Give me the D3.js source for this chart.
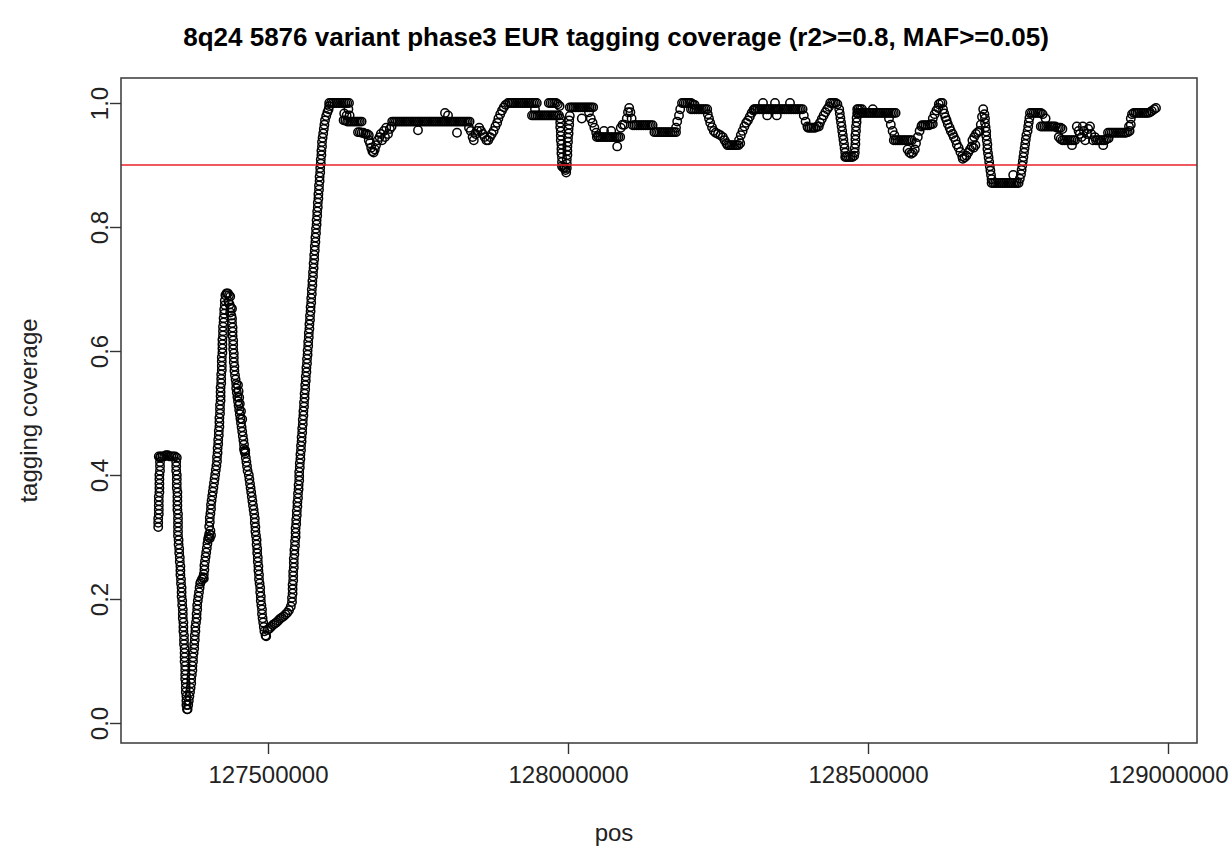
<!DOCTYPE html>
<html>
<head>
<meta charset="utf-8">
<script src="https://cdn.jsdelivr.net/npm/d3@7"></script>
<style>
body { margin: 0; background: #fff; }
text { font-family: "Liberation Sans", Arial, sans-serif; fill: #222; }
</style>
</head>
<body>
<div id="chart"></div>
<script>
const width = 1229
const height = 848
// plot frame (R plot region)
const frame = {left: 121, right: 1197, top: 78, bottom: 743}

const title = "8q24 5876 variant phase3 EUR tagging coverage (r2>=0.8, MAF>=0.05)"
const xLabel = "pos"
const yLabel = "tagging coverage"
const xTicks = [127500000, 128000000, 128500000, 129000000]
const yTicks = [0, 0.2, 0.4, 0.6, 0.8, 1.0]
const threshold = 0.9

// [position in kb, tagging coverage]
const coverage = [
// first column and shoulder
[127317,.316],[127317,.323],[127317,.330],[127318,.337],[127318,.344],[127318,.351],[127318,.358],[127318,.365],[127319,.372],[127319,.379],[127319,.386],[127319,.393],[127319,.400],[127320,.407],[127320,.414],[127320,.421],[127320,.428],
[127318,.43],[127321,.43],[127324,.43],[127327,.43],[127330,.432],[127333,.432],[127336,.43],[127339,.43],[127342,.43],[127345,.43],[127348,.428],
// fall to the first valley
[127347,.421],[127347,.414],[127347,.407],[127348,.400],[127348,.393],[127348,.386],[127348,.379],[127349,.372],[127349,.365],[127349,.358],[127349,.351],[127349,.344],[127350,.337],[127350,.330],[127350,.323],[127350,.316],[127350,.309],[127350,.302],
[127351,.295],[127351,.288],[127352,.281],[127352,.274],[127353,.267],[127353,.260],[127354,.253],[127354,.246],[127354,.239],[127355,.232],[127355,.225],[127356,.218],[127356,.211],[127356,.204],[127357,.197],
[127357,.190],[127358,.183],[127358,.176],[127358,.169],[127359,.162],[127359,.155],[127359,.148],[127360,.141],[127360,.134],[127360,.127],[127361,.120],[127361,.113],[127361,.106],[127361,.099],[127362,.092],[127362,.085],[127362,.078],
[127362,.071],[127363,.064],[127363,.057],[127363,.050],[127364,.043],[127364,.036],[127364,.029],[127365,.022],
// climb to the 0.69 peak
[127366,.022],[127367,.029],[127368,.036],[127369,.043],[127370,.050],[127371,.057],[127372,.064],[127372,.071],[127373,.078],[127374,.085],[127374,.092],[127375,.099],[127375,.106],[127376,.113],[127377,.120],[127377,.127],[127378,.134],[127378,.141],[127379,.148],[127379,.155],
[127380,.162],[127381,.169],[127381,.176],[127382,.183],[127382,.190],[127383,.197],[127384,.204],[127385,.211],[127386,.218],[127387,.225],[127388,.228],[127390,.232],[127392,.235],[127393,.233],[127393,.240],[127394,.247],[127394,.254],[127395,.261],[127396,.268],[127397,.275],[127398,.282],
[127399,.289],[127400,.296],[127401,.300],[127402,.305],[127403,.298],[127404,.310],[127405,.303],
[127402,.317],[127403,.324],[127403,.331],[127404,.338],[127405,.345],[127405,.352],[127406,.359],[127407,.366],[127408,.373],[127409,.380],[127410,.387],[127411,.394],[127412,.401],[127413,.408],[127414,.415],[127415,.422],[127415,.429],[127416,.436],[127416,.443],[127417,.450],
[127417,.457],[127418,.464],[127418,.471],[127419,.478],[127419,.485],[127419,.492],[127420,.499],[127420,.506],[127420,.513],[127421,.520],[127421,.527],[127421,.534],[127421,.541],[127422,.548],[127422,.555],[127422,.562],[127423,.569],[127423,.576],[127423,.583],[127423,.590],
[127424,.597],[127424,.604],[127424,.611],[127424,.618],[127425,.625],[127425,.632],[127425,.639],[127426,.646],[127426,.653],[127427,.660],[127427,.667],[127428,.674],[127428,.681],
[127429,.690],[127431,.693],[127433,.693],[127435,.690],[127437,.688],[127434,.680],[127436,.675],[127438,.670],[127440,.668],[127437,.662],[127439,.657],
// fall to the second valley
[127440,.652],[127440,.645],[127441,.638],[127441,.631],[127441,.624],[127442,.617],[127442,.610],[127442,.603],[127443,.596],[127443,.589],[127443,.582],[127444,.575],[127444,.568],[127445,.561],[127446,.554],[127447,.547],[127450,.545],[127447,.540],[127451,.535],[127448,.533],
[127449,.526],[127452,.525],[127450,.519],[127453,.515],[127451,.512],[127452,.505],[127455,.503],[127453,.498],[127454,.491],[127457,.490],[127455,.484],[127456,.477],[127457,.470],[127458,.463],[127459,.456],[127460,.449],[127460,.442],[127462,.440],[127461,.438],
[127462,.435],[127463,.428],[127464,.421],[127465,.414],[127466,.407],[127468,.400],[127469,.393],[127470,.386],[127471,.379],[127472,.372],[127473,.365],[127474,.358],[127475,.351],[127476,.344],[127477,.337],[127478,.330],[127478,.323],[127479,.316],[127479,.309],[127480,.302],
[127481,.295],[127481,.288],[127482,.281],[127482,.274],[127483,.267],[127483,.260],[127484,.253],[127484,.246],[127485,.239],[127485,.232],[127486,.225],[127487,.218],[127487,.211],[127488,.204],[127488,.197],[127489,.190],[127490,.183],[127490,.176],[127491,.169],[127492,.162],
[127493,.155],[127494,.148],[127496,.141],
[127497,.140],[127499,.150],[127502,.152],[127505,.155],[127508,.158],[127511,.160],[127514,.162],[127517,.165],[127520,.168],[127523,.170],[127526,.172],[127529,.175],[127532,.178],[127535,.182],[127538,.188],
// long climb to 1.0
[127540,.195],[127540,.202],[127541,.209],[127541,.216],[127541,.223],[127542,.230],[127542,.237],[127542,.244],[127543,.251],[127543,.258],[127543,.265],[127544,.272],[127544,.279],[127545,.286],[127545,.293],[127546,.300],[127546,.307],[127546,.314],[127547,.321],[127547,.328],
[127548,.335],[127548,.342],[127549,.349],[127549,.356],[127550,.363],[127550,.370],[127551,.377],[127551,.384],[127552,.391],[127552,.398],[127552,.405],[127553,.412],[127553,.419],[127554,.426],[127554,.433],[127555,.440],[127555,.447],[127556,.454],[127556,.461],[127557,.468],
[127557,.475],[127558,.482],[127558,.489],[127559,.496],[127559,.503],[127560,.510],[127560,.517],[127561,.524],[127561,.531],[127562,.538],[127562,.545],[127563,.552],[127563,.559],[127564,.566],[127564,.573],[127565,.580],[127565,.587],[127566,.594],[127566,.601],[127567,.608],
[127567,.615],[127568,.622],[127568,.629],[127569,.636],[127569,.643],[127570,.650],[127570,.657],[127571,.664],[127571,.671],[127572,.678],[127572,.685],[127573,.692],[127573,.699],[127574,.706],[127574,.713],[127575,.720],[127575,.727],[127576,.734],[127576,.741],[127577,.748],
[127577,.755],[127578,.762],[127578,.769],[127579,.776],[127579,.783],[127580,.790],[127580,.797],[127581,.804],[127581,.811],[127582,.818],[127582,.825],[127583,.832],[127583,.839],[127584,.846],[127584,.853],[127585,.860],[127585,.867],[127586,.874],[127586,.881],[127587,.888],
[127587,.895],[127588,.902],[127588,.909],[127589,.916],[127589,.923],[127590,.930],[127590,.937],[127591,.944],[127592,.951],[127593,.958],[127594,.965],[127595,.972],[127597,.979],[127599,.985],[127601,.990],[127602,.995],
// upper band
[127602,1],[127605,1],[127608,1],[127611,1],[127614,1],[127617,1],[127620,1],[127623,1],[127626,1],[127629,1],[127632,1],[127635,1],
[127627,.983],[127631,.98],[127634,.99],[127636,.98],
[127626,.972],[127629,.972],[127632,.97],[127635,.97],[127638,.97],[127641,.97],[127644,.97],[127647,.97],[127650,.97],[127653,.97],[127656,.97],
[127650,.953],[127653,.953],[127656,.952],[127659,.952],[127662,.95],[127665,.95],[127668,.948],
[127668,.94],[127670,.935],[127672,.928],[127674,.922],[127676,.92],[127678,.925],[127680,.932],[127683,.94],[127686,.945],
[127688,.95],[127690,.94],[127693,.955],[127695,.945],[127697,.96],[127700,.95],[127703,.958],[127706,.962],
[127707,.97],[127710,.97],[127713,.97],[127716,.97],[127719,.97],[127722,.97],[127725,.97],[127728,.97],[127731,.97],[127734,.97],[127737,.97],[127740,.97],[127743,.97],[127746,.97],[127749,.97],[127752,.97],[127755,.97],[127758,.97],[127761,.97],[127764,.97],
[127767,.97],[127770,.97],[127773,.97],[127776,.97],[127779,.97],[127782,.97],[127785,.97],[127788,.97],[127791,.97],[127794,.97],[127797,.97],[127800,.97],[127803,.97],[127806,.97],[127809,.97],[127812,.97],[127815,.97],[127818,.97],[127821,.97],[127824,.97],
[127827,.97],[127830,.97],[127833,.97],[127836,.97],
[127750,.956],[127795,.984],[127800,.98],[127815,.952],
[127835,.96],[127838,.955],[127841,.945],[127843,.94],[127846,.95],[127849,.955],[127852,.96],[127855,.955],[127858,.95],[127861,.945],[127864,.94],[127867,.94],[127870,.945],[127873,.95],
[127876,.955],[127879,.962],[127882,.968],[127884,.975],[127887,.982],[127890,.988],[127893,.993],[127896,.997],
[127900,1],[127903,1],[127906,1],[127909,1],[127912,1],[127915,1],[127918,1],[127921,1],[127924,1],[127927,1],[127930,1],[127933,1],[127936,1],[127939,1],[127942,1],[127945,1],[127948,1],
[127945,.99],
[127940,.98],[127943,.98],[127946,.98],[127949,.98],[127952,.98],[127955,.98],[127958,.98],[127961,.98],[127964,.98],[127967,.98],[127970,.98],[127973,.98],[127976,.98],[127979,.98],[127982,.98],[127985,.98],
[127968,1],[127971,1],[127974,1],[127977,1],[127980,1],[127983,.998],[127986,.995],
[127987,.975],[127987,.968],[127987,.961],[127988,.954],[127988,.947],[127988,.940],[127989,.933],[127989,.926],[127989,.919],[127990,.912],[127990,.905],[127990,.898],
[127992,.896],[127994,.895],[127996,.892],[127997,.888],
[127998,.895],[127998,.902],[127998,.909],[127999,.916],[127999,.923],[127999,.930],[128000,.937],[128000,.944],[128001,.951],[128001,.958],[128002,.965],[128002,.972],[128003,.979],
[128003,.993],[128006,.993],[128009,.993],[128012,.993],[128015,.993],[128018,.993],[128021,.993],[128024,.993],[128027,.993],[128030,.993],[128033,.993],[128036,.993],[128039,.993],[128042,.993],
[128023,.975],
[128035,.985],[128038,.975],[128041,.968],[128044,.96],[128047,.952],[128050,.947],
[128048,.945],[128051,.945],[128054,.945],[128057,.945],[128060,.945],[128063,.945],[128066,.945],[128069,.945],[128072,.945],[128075,.945],[128078,.945],[128081,.945],[128084,.945],[128087,.945],
[128082,.93],[128060,.955],[128072,.955],
[128088,.96],[128091,.965],[128094,.965],
[128098,.975],[128100,.985],[128102,.992],[128104,.985],[128106,.975],
[128108,.964],[128111,.964],[128114,.964],[128117,.964],[128120,.964],[128123,.964],[128126,.964],[128129,.964],[128132,.964],[128135,.964],[128138,.964],[128141,.964],
[128144,.953],[128147,.953],[128150,.953],[128153,.953],[128156,.953],[128159,.953],[128162,.953],[128165,.953],[128168,.953],[128171,.953],[128174,.953],[128177,.953],[128180,.953],
[128180,.96],[128182,.97],[128185,.98],[128187,.99],
[128190,1],[128193,1],[128196,1],[128199,1],[128202,1],[128205,1],[128208,.998],[128211,.997],
[128205,.99],[128208,.99],[128211,.99],[128214,.99],[128217,.99],[128220,.99],[128223,.99],[128226,.99],[128229,.99],[128232,.99],
[128233,.982],[128235,.975],[128237,.968],[128240,.961],[128243,.955],[128246,.952],[128250,.95],[128254,.948],[128258,.945],[128261,.94],[128264,.935],
[128266,.932],[128269,.932],[128272,.932],[128275,.932],[128278,.932],[128281,.932],[128284,.932],[128287,.935],
[128285,.94],[128288,.948],[128291,.955],[128294,.962],[128297,.968],[128300,.972],[128303,.978],[128306,.984],[128309,.988],[128312,.99],
[128310,.99],[128313,.99],[128316,.99],[128319,.99],[128322,.99],[128325,.99],[128328,.99],[128331,.99],[128334,.99],[128337,.99],[128340,.99],[128343,.99],[128346,.99],[128349,.99],[128352,.99],[128355,.99],[128358,.99],[128361,.99],[128364,.99],[128367,.99],
[128370,.99],[128373,.99],[128376,.99],[128379,.99],[128382,.99],[128385,.99],[128388,.99],[128391,.99],
[128325,1],[128345,1],[128370,1],[128332,.98],[128348,.98],
[128393,.98],[128396,.97],[128399,.962],
[128400,.96],[128403,.96],[128406,.96],[128409,.96],[128412,.96],[128415,.962],[128418,.962],
[128420,.968],[128423,.974],[128426,.98],[128429,.985],[128432,.99],[128435,.994],
[128437,1],[128440,1],[128443,1],[128446,1],[128449,.998],
[128452,.99],[128453,.983],[128454,.976],[128455,.969],[128456,.962],[128457,.955],[128458,.948],[128459,.941],[128460,.934],[128461,.927],[128462,.92],[128463,.914],
[128462,.913],[128465,.913],[128468,.913],[128471,.913],[128474,.913],[128477,.915],
[128478,.92],[128478,.927],[128479,.934],[128479,.941],[128479,.948],[128480,.955],[128480,.962],[128481,.969],[128481,.976],[128482,.983],[128482,.99],
[128484,.99],[128487,.99],[128490,.99],
[128483,.984],[128486,.984],[128489,.984],[128492,.984],[128495,.984],[128498,.984],[128501,.984],[128504,.984],[128507,.984],[128510,.984],[128513,.984],[128516,.984],[128519,.984],[128522,.984],[128525,.984],[128528,.984],[128531,.984],[128534,.984],[128537,.984],[128540,.984],
[128543,.984],[128546,.984],[128508,.99],
[128535,.975],[128538,.965],[128541,.955],[128544,.948],
[128543,.94],[128546,.94],[128549,.94],[128552,.94],[128555,.94],[128558,.94],[128561,.94],[128564,.94],[128567,.94],[128570,.94],[128573,.94],
[128566,.925],[128569,.92],[128572,.918],[128575,.92],[128578,.925],
[128580,.935],[128583,.945],[128586,.955],[128589,.962],
[128590,.964],[128593,.964],[128596,.964],[128599,.964],[128602,.964],[128605,.966],[128608,.966],
[128608,.975],[128611,.982],[128614,.988],[128617,.992],
[128618,.998],[128621,1],[128624,1],
[128625,.99],[128627,.983],[128629,.977],[128631,.972],[128633,.966],[128636,.96],[128638,.955],[128641,.95],[128643,.945],[128646,.94],[128648,.933],[128651,.928],[128654,.921],[128657,.914],
[128658,.91],[128661,.912],[128664,.915],[128667,.92],[128670,.925],[128673,.93],[128676,.928],[128679,.932],
[128674,.94],[128677,.945],[128680,.95],[128683,.953],[128686,.955],
[128688,.965],[128690,.978],[128692,.99],[128694,.982],
[128695,.975],[128695,.968],[128696,.961],[128697,.954],[128697,.947],[128698,.94],[128699,.933],[128699,.926],[128700,.919],[128701,.912],[128702,.905],[128703,.898],[128704,.891],[128705,.884],[128706,.877],
[128706,.871],[128709,.871],[128712,.871],[128715,.871],[128718,.871],[128721,.871],[128724,.871],[128727,.871],[128730,.871],[128733,.871],[128736,.871],[128739,.871],[128742,.871],[128745,.871],[128748,.871],[128751,.871],
[128742,.884],
[128753,.878],[128755,.885],[128756,.892],[128757,.899],[128758,.906],[128759,.913],[128760,.92],[128761,.927],[128762,.934],[128763,.941],[128764,.948],[128766,.955],[128767,.962],[128768,.969],[128769,.976],
[128770,.984],[128773,.984],[128776,.984],[128779,.984],[128782,.984],[128785,.984],[128788,.984],[128791,.982],
[128796,.975],
[128788,.962],[128791,.962],[128794,.962],[128797,.962],[128800,.962],[128803,.962],[128806,.962],[128809,.962],[128812,.962],[128815,.96],[128818,.96],[128821,.96],[128824,.958],
[128818,.945],[128821,.942],[128824,.94],[128827,.94],[128830,.94],[128833,.94],[128836,.94],[128839,.94],[128842,.94],[128845,.94],
[128840,.932],
[128848,.962],[128851,.955],[128853,.95],[128856,.945],[128858,.962],[128860,.955],[128862,.94],[128865,.95],[128867,.958],[128870,.962],[128872,.95],[128875,.94],[128878,.945],[128880,.94],[128883,.94],[128886,.94],
[128892,.932],
[128889,.94],[128892,.94],[128895,.94],[128898,.942],[128901,.943],
[128900,.952],[128903,.952],[128906,.952],[128909,.952],[128912,.952],[128915,.952],[128918,.952],[128921,.952],[128924,.952],[128927,.952],[128930,.952],[128933,.953],[128936,.955],
[128935,.962],[128938,.965],
[128938,.975],[128940,.982],[128943,.984],[128946,.984],[128949,.984],[128952,.984],[128955,.984],[128958,.984],[128961,.984],[128964,.984],[128967,.984],[128970,.985],[128973,.987],
[128977,.99],[128980,.992]
]

const svg = d3.select("#chart")
    .append("svg")
    .attr("width", width)
    .attr("height", height)
    .style("background", "#fff")

const x = d3.scaleLinear().domain([127255000, 129048333]).range([frame.left, frame.right])
const y = d3.scaleLinear().domain([-20 / 620, 645 / 620]).range([frame.bottom, frame.top])

// points
svg.append("g")
    .attr("id", "points")
    .selectAll("circle")
    .data(coverage)
    .join("circle")
        .attr("cx", d => x(d[0] * 1000))
        .attr("cy", d => y(d[1]))
        .attr("r", 4.2)
        .attr("fill", "none")
        .attr("stroke", "#000")
        .attr("stroke-width", 1.5)

// threshold line
svg.append("line")
    .attr("x1", frame.left).attr("x2", frame.right)
    .attr("y1", y(threshold)).attr("y2", y(threshold))
    .attr("stroke", "#e8202a")
    .attr("stroke-width", 1.6)

// box
svg.append("rect")
    .attr("x", frame.left).attr("y", frame.top)
    .attr("width", frame.right - frame.left)
    .attr("height", frame.bottom - frame.top)
    .attr("fill", "none")
    .attr("stroke", "#444")
    .attr("stroke-width", 1.6)

// axes
const xAxis = d3.axisBottom(x).tickValues(xTicks).tickFormat(d3.format("d")).tickSize(11).tickPadding(12)
const xAxisGroup = svg.append("g")
    .attr("transform", `translate(0, ${frame.bottom})`)
    .call(xAxis)
xAxisGroup.select(".domain").remove()
xAxisGroup.selectAll("line").attr("stroke", "#333").attr("stroke-width", 1.4)
xAxisGroup.selectAll("text")
    .attr("fill", "#222")
    .style("font-size", "24px")
    .style("font-family", "'Liberation Sans', Arial, sans-serif")

const yAxis = d3.axisLeft(y).tickValues(yTicks).tickFormat(d3.format(".1f")).tickSize(11)
const yAxisGroup = svg.append("g")
    .attr("transform", `translate(${frame.left}, 0)`)
    .call(yAxis)
yAxisGroup.select(".domain").remove()
yAxisGroup.selectAll("line").attr("stroke", "#333").attr("stroke-width", 1.4)
yAxisGroup.selectAll("text")
    .attr("transform", "rotate(-90)")
    .attr("x", 0)
    .attr("y", -13)
    .attr("dy", 0)
    .attr("text-anchor", "middle")
    .attr("fill", "#222")
    .style("font-size", "24px")
    .style("font-family", "'Liberation Sans', Arial, sans-serif")

// titles
svg.append("text")
    .text(title)
    .attr("x", 616)
    .attr("y", 46)
    .attr("text-anchor", "middle")
    .style("font-size", "26px")
    .style("font-weight", "bold")
    .style("fill", "#000")

svg.append("text")
    .text(xLabel)
    .attr("x", 614)
    .attr("y", 841)
    .attr("text-anchor", "middle")
    .style("font-size", "24px")

svg.append("text")
    .text(yLabel)
    .attr("transform", `translate(37, ${(frame.top + frame.bottom) / 2}) rotate(-90)`)
    .attr("text-anchor", "middle")
    .style("font-size", "24px")
</script>
</body>
</html>
